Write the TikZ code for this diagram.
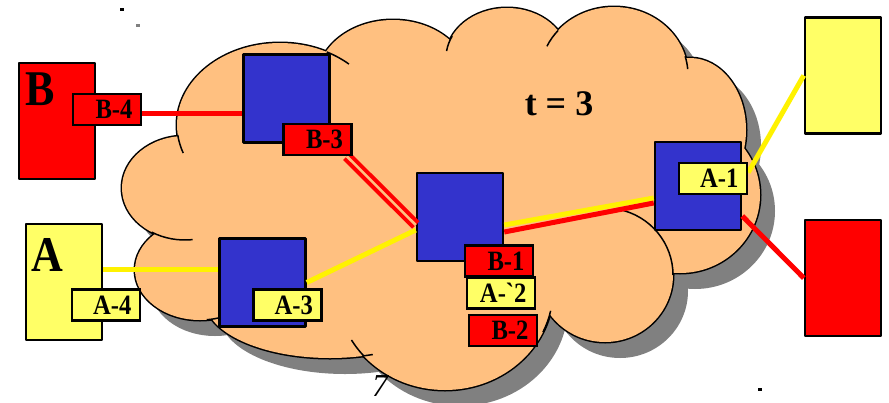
\documentclass[tikz,border=0pt]{standalone}
\usepackage{fontspec}
\setmainfont{Liberation Serif}
\newfontfamily\chunhan[FakeStretch=0.88]{Liberation Serif}
\definecolor{maymau}{HTML}{FFC080}
\definecolor{xanh}{HTML}{3333CC}
\definecolor{vangnhat}{HTML}{FFFF66}
\pgfdeclarelayer{front}
\pgfsetlayers{main,front}
\begin{document}
\begin{tikzpicture}[x=1pt,y=-1pt,line join=round,
	router/.style={draw=black,line width=2.5pt,fill=xanh,minimum width=86pt,minimum height=88pt,inner sep=0pt},
	host/.style={draw=black,line width=2.5pt,minimum width=76pt,minimum height=116pt,inner sep=0pt},
	nhan/.style={draw=black,line width=2.5pt,minimum height=31pt,text width=51pt,inner xsep=8.5pt,inner ysep=0pt,align=right,font=\chunhan\bfseries\fontsize{28}{28}\selectfont},
	lred/.style={draw=red,line width=5pt},
	lyellow/.style={draw=yellow,line width=5pt}]
	\useasboundingbox (0,0) rectangle (889,402);
	\def\bumps{280/125/103/82,393/80/76/60,507/58/61/50,614/75/74/68,690/130/56/72,680/195/80/78,605/275/68/67,445/290/108/100,330/300/125/58,200/270/65/50,185/188/63/52}
	%Bóng và đám mây
	\foreach \cx/\cy/\rx/\ry in \bumps \fill[gray] (\cx+15,\cy+16) ellipse [x radius=\rx pt,y radius=\ry pt];
	\foreach \cx/\cy/\rx/\ry in \bumps \draw[line width=3pt] (\cx,\cy) ellipse [x radius=\rx pt,y radius=\ry pt];
	\fill[maymau] (430,190) ellipse [x radius=230pt,y radius=110pt];
	\foreach \cx/\cy/\rx/\ry in \bumps \fill[maymau] (\cx,\cy) ellipse [x radius=\rx pt,y radius=\ry pt];
	\foreach \cx/\cy/\rx/\ry/\sa/\ea in {280/125/103/82/63/48,280/125/103/82/-173/-160,507/58/61/50/154/172,614/75/74/68/139/155,614/75/74/68/16/5,605/275/68/67/78/0,445/290/108/100/-25/-12,445/290/108/100/-139/-150,330/300/125/58/-75/-70,200/270/65/50/-84/-70,185/188/63/52/-122/-83}
	\draw[line width=1.5pt] (\cx,\cy) ++(\sa:\rx pt and \ry pt) arc[start angle=\sa,end angle=\ea,x radius=\rx pt,y radius=\ry pt];
	%Bộ định tuyến và máy
	\foreach \n/\p in {r1/{286.5,98.5},r2/{262.5,282.5},r3/{460,217},r4/{698,186}}\node[router] (\n) at (\p) {};
	\foreach \n/\p/\c in {hB/{57,121}/red,hA/{64,282}/vangnhat,hY/{843,75.5}/vangnhat,hR/{843,278}/red}\node[host,fill=\c] (\n) at (\p) {};
	\node[font=\chunhan\bfseries\fontsize{50}{50}\selectfont,anchor=base west,inner sep=0pt] (chuB) at (25,105) {B};
	\node[font=\chunhan\bfseries\fontsize{50}{50}\selectfont,anchor=base west,inner sep=0pt] (chuA) at (31,271) {A};
	\node[font=\bfseries\fontsize{36}{36}\selectfont,anchor=base,inner sep=0pt] (thoigian) at (559,115) {t = 3};
	\node[font=\itshape\fontsize{32}{32}\selectfont,anchor=base,inner sep=0pt] (so7) at (380,396) {7};
	\begin{pgfonlayer}{front}
	\foreach \n/\p/\t/\c in {b4/{107,109.5}/B-4/red,b3/{317.5,139.5}/B-3/red,a4/{106,305}/A-4/vangnhat,a3/{287.5,305}/A-3/vangnhat,b1/{499,261}/B-1/red,a2/{501,293}/A-`2/vangnhat,b2/{503,330.5}/B-2/red,a1/{713,178.5}/A-1/vangnhat}
	\node[nhan,fill=\c] (\n) at (\p) {\t};
	\end{pgfonlayer}
	%Đường nối
	\draw[lred] ([yshift=-3.5pt]b4.east) -- ([yshift=-3.5pt]b4.east -| r1.west);
	\draw[lyellow] ([yshift=13pt]hA.east) -- ([yshift=13pt]hA.east -| r2.west);
	\draw[lyellow] (r2.east) -- ([yshift=-13pt]r3.west);
	\draw[draw=red,double=maymau,double distance=2.5pt,line width=4pt] ([xshift=-6pt]b3.south east) -- ([yshift=-8pt]r3.west);
	\draw[lyellow] ([yshift=-8pt]r3.east) -- ([yshift=-12pt]r4.west);
	\draw[lred] ([yshift=-15pt]r3.east) -- ([yshift=-17pt]r4.west);
	\draw[lyellow] ([yshift=6pt]a1.east) -- (hY.west);
	\draw[lred] ([yshift=-30pt]r4.east) -- (hR.west);
	\fill (120,8) rectangle (124,11);
	\fill[gray] (136,24) rectangle (140,27);
	\fill (758,388) rectangle (762,391);
\end{tikzpicture}
\end{document}
